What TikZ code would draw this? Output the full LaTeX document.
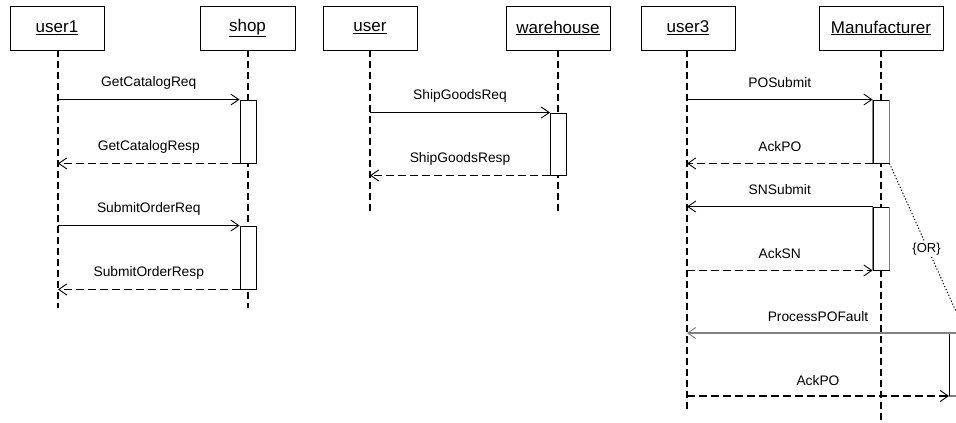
\documentclass[tikz,border=0pt]{standalone}
\usepackage{fontspec}
\setmainfont{Liberation Sans}
\usetikzlibrary{arrows.meta}
\begin{document}
\begin{tikzpicture}[x=1pt,y=-1pt,
  objbox/.style={draw=black,line width=0.9pt,fill=white,minimum height=44pt,inner sep=0pt,font=\fontsize{17}{20}\selectfont},
  lifeline/.style={draw=black,line width=1.9pt,dash pattern=on 7pt off 4pt},
  actbox/.style={draw=black,line width=0.9pt,fill=white,minimum width=16pt,inner sep=0pt},
  msg/.style={draw=black,line width=0.9pt,-{Straight Barb[length=8pt,width=11pt,line width=0.9pt]}},
  retmsg/.style={draw=black,line width=1.9pt,dash pattern=on 8pt off 4pt,-{Straight Barb[length=8pt,width=11pt,line width=0.9pt]}},
  lbl/.style={midway,yshift=17pt,font=\fontsize{13.8}{16}\selectfont,inner sep=0pt}
]
\useasboundingbox (0,0) rectangle (956,423);
\clip (0,0) rectangle (956,423);
\fill[white] (0,0) rectangle (956,423);

% ---------- group 1 ----------
\node[objbox,minimum width=94pt] (u1) at (57,28) {\underline{user1}};
\node[objbox,minimum width=95pt] (shop) at (247.5,28) {\underline{shop}};
\coordinate (u1e) at (58,308);
\coordinate (shope) at (248,308);
\draw[lifeline] (u1.south -| u1e) -- (u1e);
\draw[lifeline] (shop.south -| shope) -- (shope);
\node[actbox,minimum height=63pt] (sa1) at (248,131.5) {};
\node[actbox,minimum height=63pt] (sa2) at (248,257.5) {};
\draw[msg] (sa1.north west -| u1e) -- (sa1.north west) node[lbl] {GetCatalogReq};
\draw[retmsg] (sa1.south west) -- (sa1.south west -| u1e) node[lbl] {GetCatalogResp};
\draw[msg] (sa2.north west -| u1e) -- (sa2.north west) node[lbl] {SubmitOrderReq};
\draw[retmsg] (sa2.south west) -- (sa2.south west -| u1e) node[lbl] {SubmitOrderResp};

% ---------- group 2 ----------
\node[objbox,minimum width=94pt] (u) at (370,28) {\underline{user}};
\node[objbox,minimum width=104pt] (wh) at (558,28) {\underline{warehouse}};
\coordinate (ue) at (370,212);
\coordinate (whe) at (558,212);
\draw[lifeline] (u.south -| ue) -- (ue);
\draw[lifeline] (wh.south -| whe) -- (whe);
\node[actbox,minimum height=62pt] (wa) at (558.5,144) {};
\draw[msg] (wa.north west -| ue) -- (wa.north west) node[lbl] {ShipGoodsReq};
\draw[retmsg] (wa.south west) -- (wa.south west -| ue) node[lbl] {ShipGoodsResp};

% ---------- group 3 ----------
\node[objbox,minimum width=94pt] (u3) at (688,28) {\underline{user3}};
\node[objbox,minimum width=124pt] (mf) at (881,28) {\underline{Manufacturer}};
\coordinate (u3e) at (687,410);
\coordinate (mfe) at (881,424);
\draw[lifeline] (u3.south -| u3e) -- (u3e);
\draw[lifeline] (mf.south -| mfe) -- (mfe);
\node[actbox,minimum height=63pt] (ma1) at (881,131.5) {};
\node[actbox,minimum height=63pt] (ma2) at (881,238.5) {};
\draw[gray,line width=1.4pt] (ma1.north west) -- (ma1.south west) (ma1.north east) -- (ma1.south east);
\draw[gray,line width=1.4pt] (ma2.north west) -- (ma2.south west) (ma2.north east) -- (ma2.south east);
\draw[msg] (ma1.north west -| u3e) -- (ma1.north west) node[lbl] {POSubmit};
\draw[retmsg] (ma1.south west) -- (ma1.south west -| u3e) node[lbl] {AckPO};
\draw[msg] (ma2.north west) -- (ma2.north west -| u3e) node[lbl] {SNSubmit};
\draw[retmsg] (ma2.south west -| u3e) -- (ma2.south west) node[lbl] {AckSN};

% right activation (partly outside)
\coordinate (ra) at (949,333);
\coordinate (rb) at (949,396);
\coordinate (rc) at (970,333);
\coordinate (rd) at (970,396);
\draw[gray,line width=1.4pt] (rc) -- (ra);
\draw[gray,line width=1.4pt] (rb) -- (rd);
\draw[black,line width=0.9pt] (ra) -- (rb);
\draw[msg,draw=gray,line width=1.3pt] (rc) -- (ra -| u3e);
\node[font=\fontsize{13.8}{16}\selectfont,inner sep=0pt] (pf) at (818,317) {ProcessPOFault};
\draw[retmsg] (rb -| u3e) -- (rb) node[midway,yshift=15pt,font=\fontsize{13.8}{16}\selectfont,inner sep=0pt] {AckPO};

% {OR} constraint
\coordinate (orend) at (963.7,328.6);
\draw[line width=1pt,dash pattern=on 1.2pt off 2pt] (ma1.south east) -- (orend)
  node[pos=0.5,fill=white,inner sep=1.5pt,yshift=-3pt,font=\fontsize{13}{16}\selectfont] {\{OR\}};
\end{tikzpicture}
\end{document}
